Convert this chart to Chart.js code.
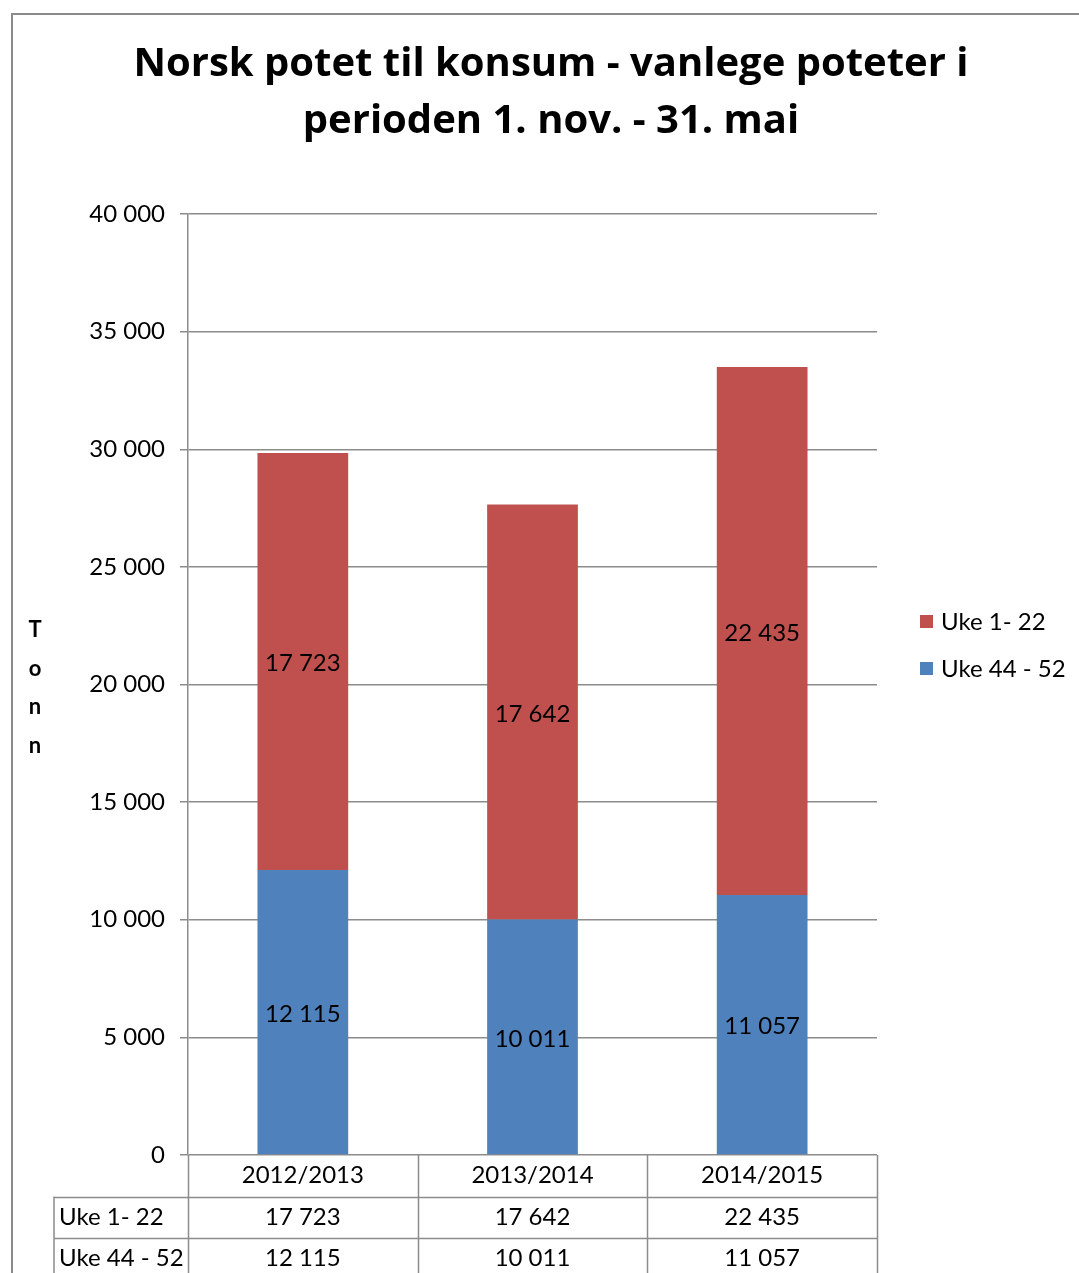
<!DOCTYPE html>
<html>
<head>
<meta charset="utf-8">
<script src="https://cdn.jsdelivr.net/npm/chart.js@4/dist/chart.umd.min.js"></script>
<style>
  html, body { margin: 0; padding: 0; background: #fff; overflow: hidden; }
  #wrap { position: relative; width: 1079px; height: 1273px; }
  #frame { position: absolute; left: 11px; top: 13px; width: 1200px; height: 1400px; border: 2px solid #8a8a8a; }
  canvas { position: absolute; left: 0; top: 0; }
</style>
</head>
<body>
<div id="wrap">
  <div id="frame"></div>
  <canvas id="chart" width="1079" height="1273"></canvas>
</div>
<script>
// values
const seasons = ["2012/2013", "2013/2014", "2014/2015"];
const uke4452 = [12115, 10011, 11057];
const uke122 = [17723, 17642, 22435];
const titleLines = ["Norsk potet til konsum - vanlege poteter i", "perioden 1. nov. - 31. mai"];
const axisTitle = "Tonn";

const red = "#c0504d";
const blue = "#4f81bd";
const lineGrey = "#8c8c8c";
const font = "Lato";

// 17723 -> "17 723"
function fmt(v) {
  return String(v).replace(/\B(?=(\d{3})+(?!\d))/g, " ");
}

// title, axis title, legend, labels in the bars and the data table under the chart
const extras = {
  id: "extras",
  afterDraw(chart) {
    const ctx = chart.ctx;
    const x = chart.scales.x;
    const area = chart.chartArea;
    ctx.save();

    // title
    ctx.fillStyle = "#000";
    ctx.textAlign = "center";
    ctx.textBaseline = "middle";
    ctx.font = "bold 40px 'Open Sans'";
    titleLines.forEach((t, i) => ctx.fillText(t, 551, 65 + i * 57));

    // "Tonn" written one letter under the other
    ctx.font = "bold 22px " + font;
    axisTitle.split("").forEach((c, i) => ctx.fillText(c, 35, 630 + i * 38.5));

    // numbers inside the bar segments
    ctx.font = "24px " + font;
    chart.data.datasets.forEach((ds, d) => {
      chart.getDatasetMeta(d).data.forEach((bar, i) => {
        ctx.fillText(fmt(ds.data[i]), bar.x, (bar.y + bar.base) / 2 + 2);
      });
    });

    // legend, same order as excel (top series first)
    const order = chart.data.datasets.slice().reverse();
    ctx.textAlign = "left";
    order.forEach((ds, i) => {
      const cy = 622 + i * 47;
      ctx.fillStyle = ds.backgroundColor;
      ctx.fillRect(920, cy - 7, 13, 13);
      ctx.fillStyle = "#000";
      ctx.fillText(ds.label, 941, cy);
    });

    // data table
    const n = seasons.length;
    const cw = (x.right - x.left) / n;
    const top = area.bottom;
    const rowH = 41.5;
    const labelLeft = 54;
    ctx.strokeStyle = lineGrey;
    ctx.lineWidth = 1.5;
    ctx.beginPath();
    for (let i = 0; i <= n; i++) {
      const lx = Math.round(x.left + i * cw) + 0.5;
      ctx.moveTo(lx, top);
      ctx.lineTo(lx, top + rowH * 4);
    }
    ctx.moveTo(labelLeft, top + rowH);
    ctx.lineTo(labelLeft, top + rowH * 4);
    for (let r = 1; r <= 3; r++) {
      const ly = Math.round(top + r * rowH) + 0.5;
      ctx.moveTo(labelLeft, ly);
      ctx.lineTo(x.right, ly);
    }
    ctx.stroke();

    ctx.fillStyle = "#000";
    ctx.textAlign = "center";
    seasons.forEach((s, i) => ctx.fillText(s, x.getPixelForValue(i), top + rowH / 2));
    order.forEach((ds, r) => {
      const cy = top + rowH * (r + 1) + rowH / 2;
      ctx.textAlign = "left";
      ctx.fillText(ds.label, labelLeft + 5, cy);
      ctx.textAlign = "center";
      ds.data.forEach((v, i) => ctx.fillText(fmt(v), x.getPixelForValue(i), cy));
    });

    ctx.restore();
  }
};

new Chart(document.getElementById("chart"), {
  type: "bar",
  data: {
    labels: seasons,
    datasets: [
      { label: "Uke 44 - 52", data: uke4452, backgroundColor: blue },
      { label: "Uke 1- 22", data: uke122, backgroundColor: red },
    ],
  },
  options: {
    responsive: false,
    animation: false,
    layout: { padding: { left: 0, top: 214, right: 202, bottom: 118 } },
    datasets: { bar: { categoryPercentage: 1, barPercentage: 0.395 } },
    plugins: {
      legend: { display: false },
      title: { display: false },
      tooltip: { enabled: false },
    },
    scales: {
      x: { stacked: true, display: false },
      y: {
        stacked: true,
        min: 0,
        max: 40000,
        afterFit: (s) => { s.width = 188; },
        border: { color: lineGrey, width: 1.5 },
        grid: { color: lineGrey, lineWidth: 1.5, tickLength: 8 },
        ticks: {
          stepSize: 5000,
          padding: 15,
          color: "#000",
          font: { family: font, size: 24 },
          callback: (v) => fmt(v),
        },
      },
    },
  },
  plugins: [extras],
});
</script>
</body>
</html>
